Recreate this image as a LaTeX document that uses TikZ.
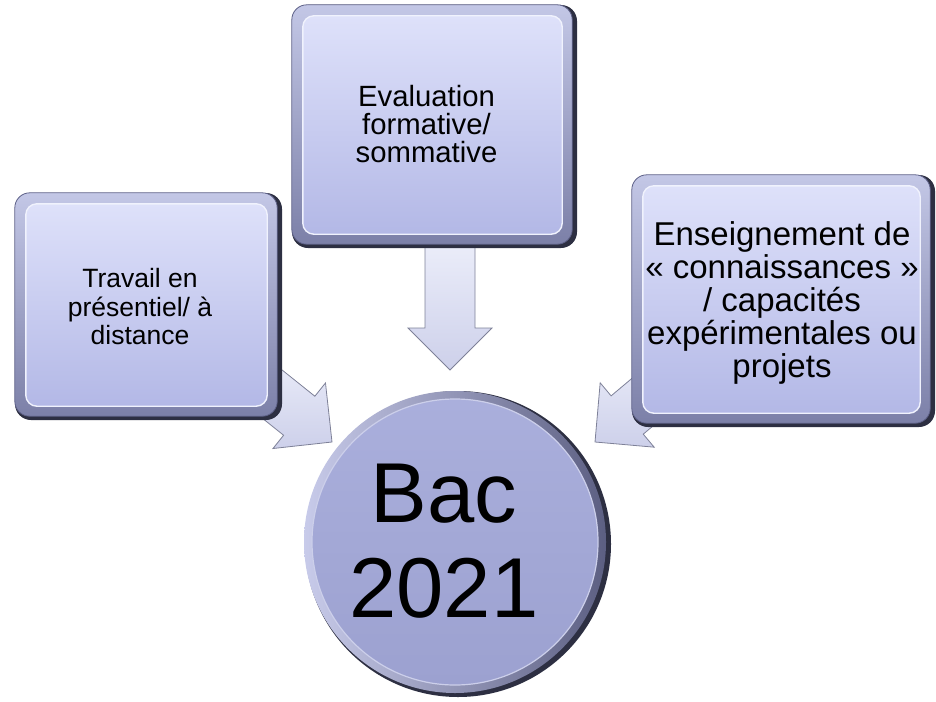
\documentclass[tikz,border=0pt]{standalone}
\usepackage{fontspec}
\setmainfont{Liberation Sans}
\definecolor{shadowc}{HTML}{2D2F42}
\definecolor{framet}{HTML}{C3C7E6}
\definecolor{frameb}{HTML}{7C80A8}
\definecolor{frameline}{HTML}{5E6188}
\definecolor{facet}{HTML}{DEE1FA}
\definecolor{faceb}{HTML}{B3B8E6}
\definecolor{arrt}{HTML}{EEF0FB}
\definecolor{arrb}{HTML}{CDD0EA}
\definecolor{arrline}{HTML}{7E8198}
\definecolor{ringl}{HTML}{C8CBEA}
\definecolor{ringr}{HTML}{5C5F82}
\definecolor{circt}{HTML}{AAAFDC}
\definecolor{circb}{HTML}{9CA1D0}
\begin{document}
\begin{tikzpicture}[x=1pt,y=-1pt,
  shadowbox/.style={fill=shadowc, rounded corners=16pt, draw=none, inner sep=0pt},
  framebox/.style={rounded corners=15pt, top color=framet, bottom color=frameb, draw=frameline, line width=0.8pt},
  facebox/.style={rounded corners=11pt, top color=facet, bottom color=faceb, draw=white!55!facet, line width=1.4pt},
  lbl/.style={align=center, text=black, inner sep=0pt},
  arr/.style={top color=arrt, bottom color=arrb, draw=arrline, line width=0.8pt, line join=miter},
  ring/.style={left color=ringl, right color=ringr, draw=none},
  disc/.style={top color=circt, bottom color=circb, draw=white!40!circt, line width=1.2pt}
]
\useasboundingbox (0,0) rectangle (936,701);

% arrow tips
\coordinate (tipT) at (450,370);
\coordinate (tipL) at (332,442);
\coordinate (tipR) at (595,442);

% block arrows (drawn first, their shafts run under the boxes)
\path[arr, shift={(tipT)}, rotate=-90] (0,0) -- (-42,42) -- (-42,25) -- (-140,25) -- (-140,-25) -- (-42,-25) -- (-42,-42) -- cycle;
\path[arr, shift={(tipL)}, rotate=-38.7] (0,0) -- (-42,42) -- (-42,25) -- (-125,25) -- (-125,-25) -- (-42,-25) -- (-42,-42) -- cycle;
\path[arr, shift={(tipR)}, rotate=-140] (0,0) -- (-42,42) -- (-42,25) -- (-125,25) -- (-125,-25) -- (-42,-25) -- (-42,-42) -- cycle;

% left box
\node[shadowbox, minimum width=267pt, minimum height=227pt] (L) at (148.5,306.5) {};
\path[framebox] (L.north west) rectangle ([xshift=-5pt,yshift=4pt]L.south east);
\path[facebox] ([xshift=11pt,yshift=-11pt]L.north west) rectangle ([xshift=-15pt,yshift=14pt]L.south east);
\node[lbl, font=\fontsize{26.5}{28.5}\selectfont] (Ltxt) at (140,307) {Travail en\\présentiel/ à\\distance};

% top box
\node[shadowbox, minimum width=285pt, minimum height=243pt] (T) at (434.5,126.5) {};
\path[framebox] (T.north west) rectangle ([xshift=-5pt,yshift=4pt]T.south east);
\path[facebox] ([xshift=11pt,yshift=-11pt]T.north west) rectangle ([xshift=-15pt,yshift=14pt]T.south east);
\node[lbl, font=\fontsize{29.3}{28}\selectfont] (Ttxt) at (426.5,124.5) {Evaluation\\formative/\\sommative};

% right box
\node[shadowbox, minimum width=303pt, minimum height=252pt] (R) at (783.5,301) {};
\path[framebox] (R.north west) rectangle ([xshift=-5pt,yshift=4pt]R.south east);
\path[facebox] ([xshift=11pt,yshift=-11pt]R.north west) rectangle ([xshift=-15pt,yshift=14pt]R.south east);
\node[lbl, font=\fontsize{33}{33}\selectfont] (Rtxt) at (782,302.5) {Enseignement de\\« connaissances »\\/ capacités\\expérimentales ou\\projets};

% central circle
\node[circle, fill=shadowc, minimum size=306pt, inner sep=0pt] (C) at (458,544) {};
\path[ring] (455,542) circle (151);
\path[disc] (455,542) circle (143);
\node[lbl, font=\fontsize{85}{95}\selectfont] (Ctxt) at (444,541) {Bac\\2021};
\end{tikzpicture}
\end{document}
